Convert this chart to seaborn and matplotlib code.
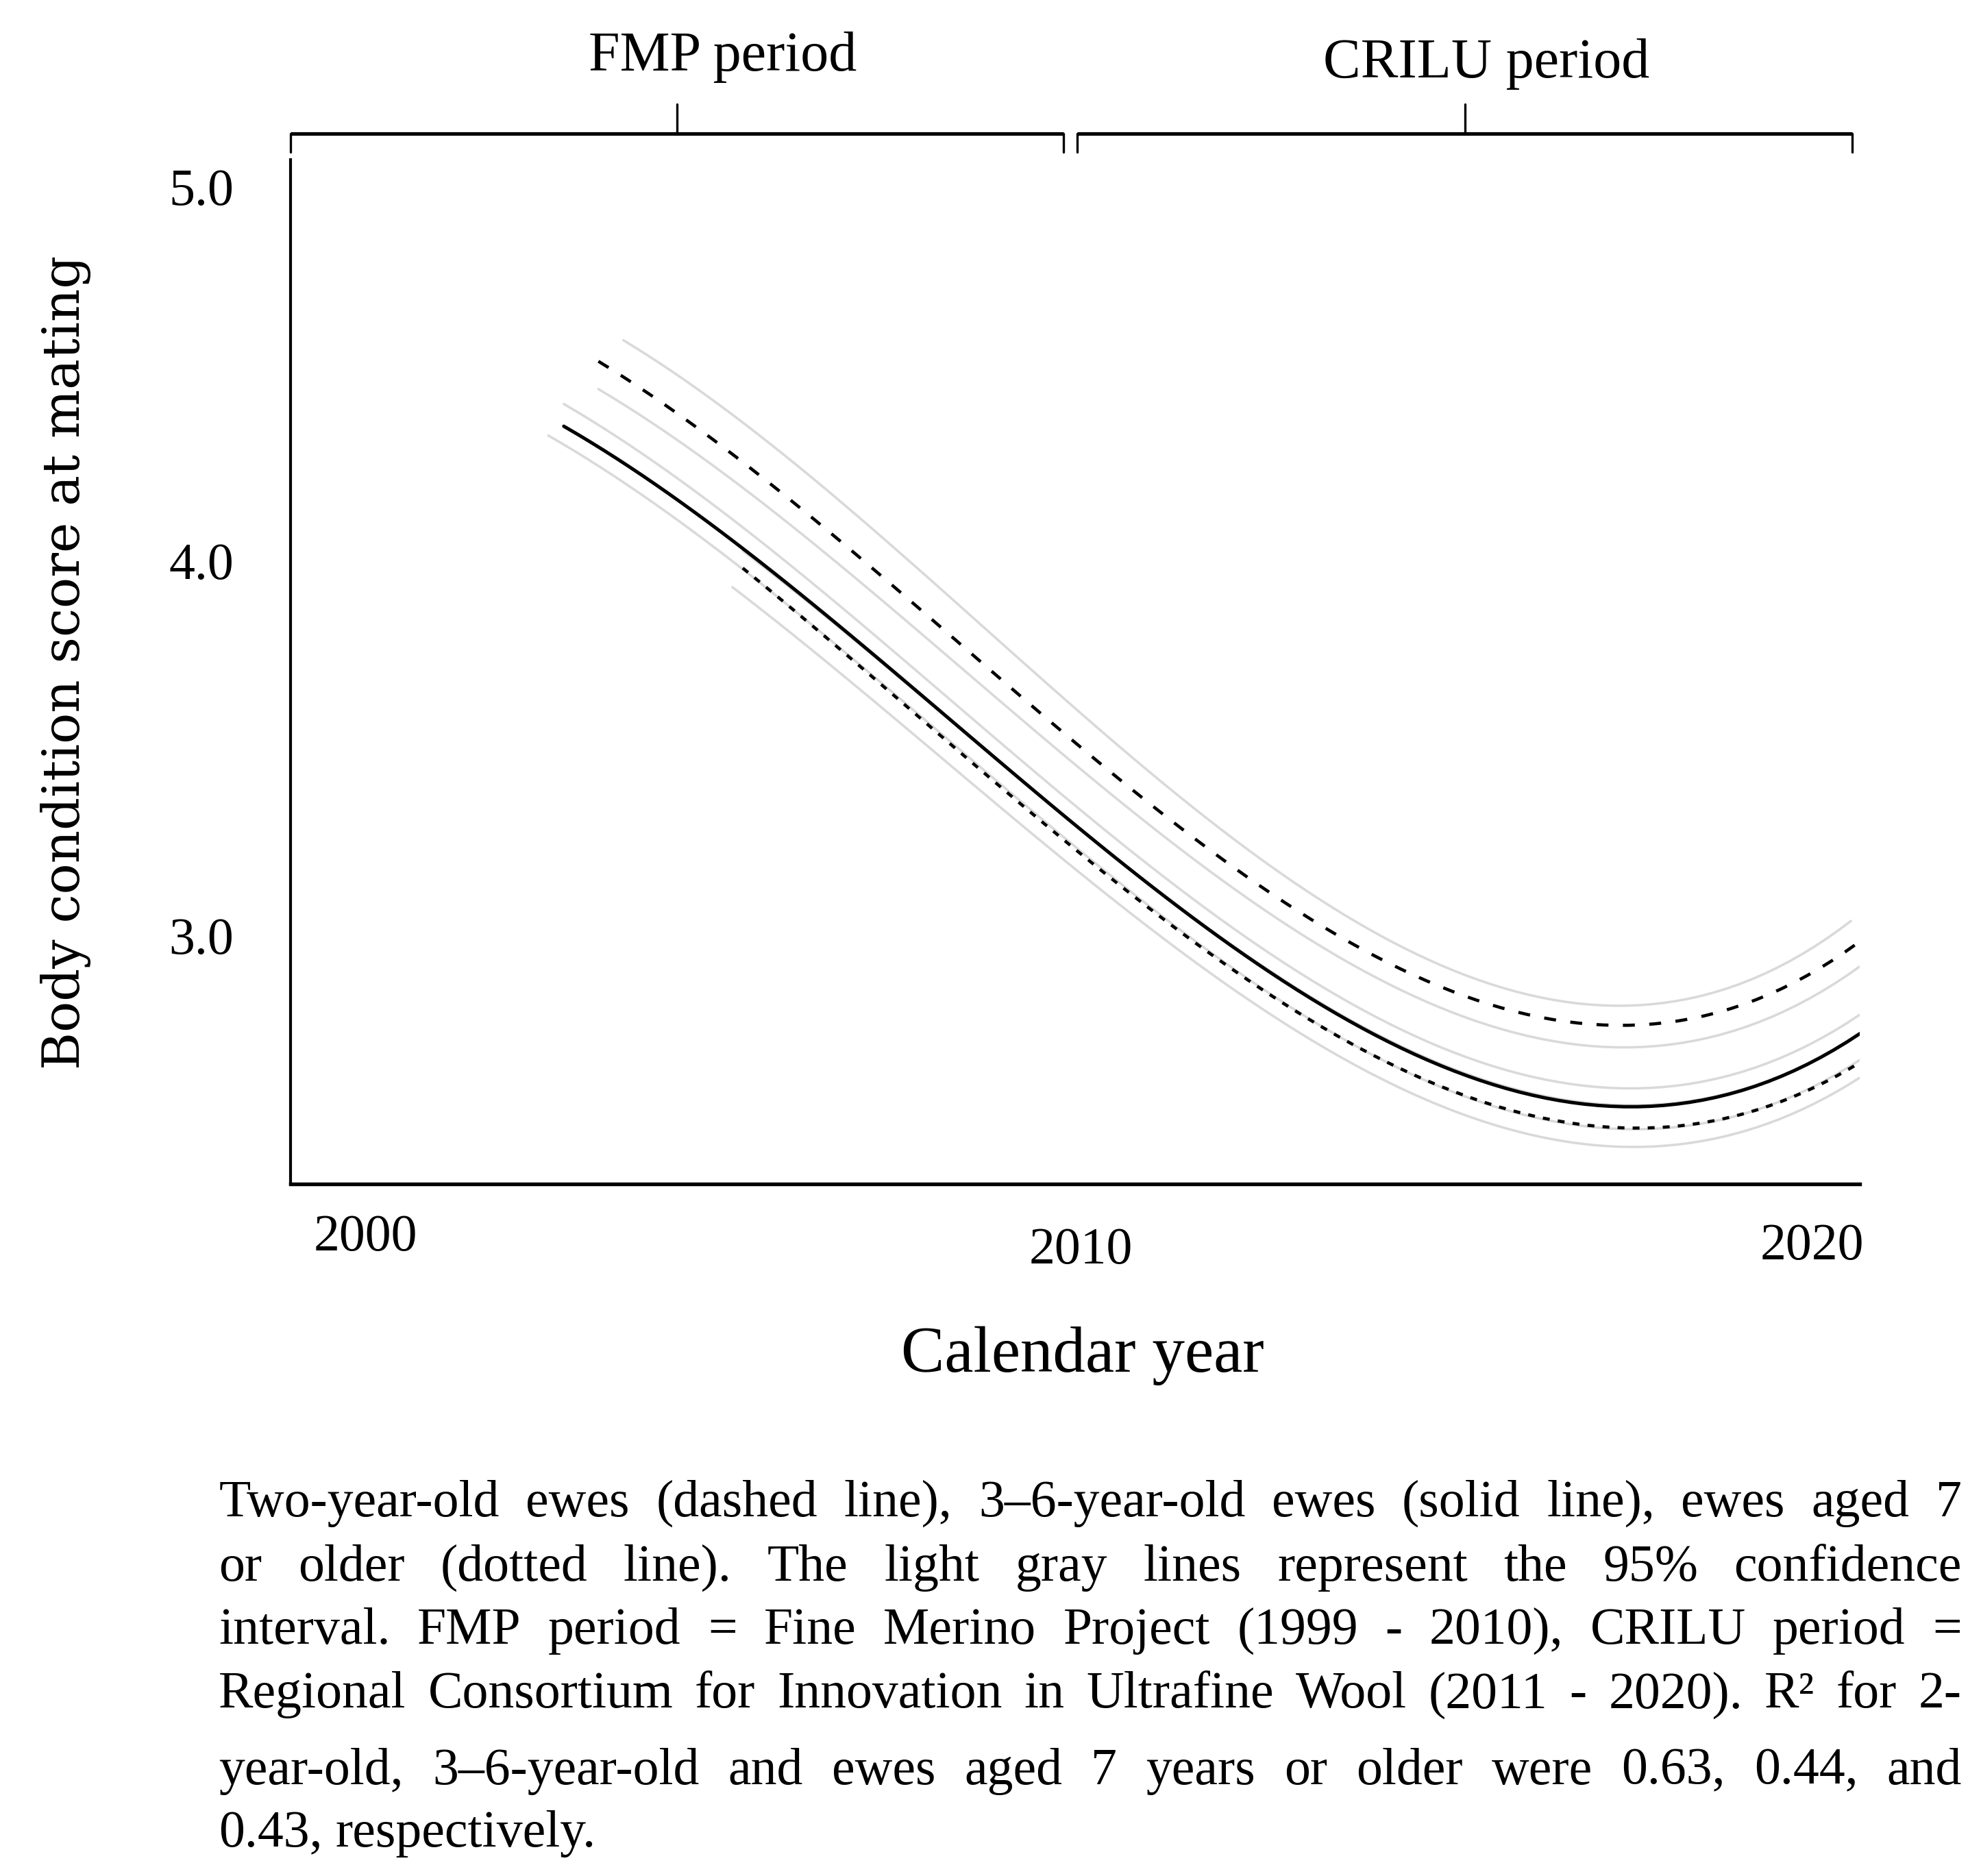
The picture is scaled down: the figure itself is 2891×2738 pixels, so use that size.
import matplotlib
matplotlib.use("Agg")
import matplotlib.pyplot as plt
import matplotlib.transforms as mtransforms
import numpy as np
import seaborn as sns

sns.set_style("white")
plt.rcParams['font.family'] = ['Liberation Serif', 'DejaVu Serif']
plt.rcParams['text.color'] = 'black'
plt.rcParams['ytick.color'] = 'black'
plt.rcParams['xtick.color'] = 'black'

# values (calendar year, body condition score)
yr_2yo = [2003.47, 2005.84, 2008.71, 2009.24, 2011.40, 2014.38, 2015.17, 2017.09, 2020.57]
bcs_2yo = [4.53, 4.21, 3.72, 3.63, 3.28, 2.92, 2.84, 2.76, 2.98]
yr_2yo_hi = [2003.81, 2008.71, 2009.53, 2014.38, 2015.22, 2017.09, 2020.48]
bcs_2yo_hi = [4.59, 3.82, 3.68, 2.97, 2.90, 2.81, 3.04]
yr_2yo_lo = [2003.47, 2008.71, 2014.38, 2015.22, 2017.09, 2020.60]
bcs_2yo_lo = [4.46, 3.66, 2.85, 2.80, 2.69, 2.92]

yr_36 = [2003.00, 2005.14, 2008.71, 2011.24, 2014.38, 2015.22, 2017.29, 2020.60]
bcs_36 = [4.36, 4.08, 3.49, 3.10, 2.71, 2.62, 2.54, 2.74]
yr_36_hi = [2003.00, 2008.71, 2014.38, 2015.22, 2017.29, 2020.60]
bcs_36_hi = [4.42, 3.55, 2.76, 2.67, 2.59, 2.79]
yr_36_lo = [2002.79, 2005.43, 2008.71, 2011.07, 2014.38, 2017.29, 2020.60]
bcs_36_lo = [4.33, 3.99, 3.44, 3.05, 2.645, 2.49, 2.665]

yr_7 = [2005.43, 2008.71, 2011.07, 2014.38, 2015.17, 2017.29, 2020.60]
bcs_7 = [3.98, 3.44, 3.05, 2.64, 2.58, 2.49, 2.66]
yr_7_hi = [2005.43, 2008.71, 2011.24, 2014.38, 2017.29, 2020.60]
bcs_7_hi = [4.03, 3.49, 3.10, 2.71, 2.54, 2.74]
yr_7_lo = [2005.29, 2008.71, 2014.38, 2015.22, 2017.29, 2020.60]
bcs_7_lo = [3.93, 3.38, 2.59, 2.52, 2.44, 2.62]

periods = ['FMP period', 'CRILU period']
period_start = [1999.29, 2009.97]
period_end = [2009.79, 2020.50]
period_label_x = [2005.16, 2015.53]
period_label_y = [1.1003, 1.0936]

year_ticks = [2000, 2010, 2020]
year_label_x = [2000.31, 2010.02, 2019.95]
year_label_y = [-0.0528, -0.065, -0.061]
bcs_ticks = [3.0, 4.0, 5.0]

caption_lines = [
    "Two-year-old ewes (dashed line), 3\u20136-year-old ewes (solid line), ewes aged 7",
    "or older (dotted line). The light gray lines represent the 95% confidence",
    "interval. FMP period = Fine Merino Project (1999 - 2010), CRILU period =",
    "Regional Consortium for Innovation in Ultrafine Wool (2011 - 2020). R\u00b2 for 2-",
    "year-old, 3\u20136-year-old and ewes aged 7 years or older were 0.63, 0.44, and",
    "0.43, respectively.",
]
caption_baselines = [0.1917, 0.1574, 0.1238, 0.0897, 0.0491, 0.0157]

BASE = 2000  # plot years as offset from 2000 to keep the cubic fit well conditioned

fig = plt.figure(figsize=(2891 / 300, 2738 / 300), dpi=300)
ax = fig.add_axes([0.1467, 0.3689, 0.9388 - 0.1467, 0.9149 - 0.3689])

gray = '#d9d9d9'
ci_series = [(yr_2yo_hi, bcs_2yo_hi), (yr_2yo_lo, bcs_2yo_lo),
             (yr_36_hi, bcs_36_hi), (yr_36_lo, bcs_36_lo),
             (yr_7_hi, bcs_7_hi), (yr_7_lo, bcs_7_lo)]
for yrs, vals in ci_series:
    sns.regplot(x=np.array(yrs) - BASE, y=np.array(vals), order=3, ci=None, scatter=False,
                truncate=True, ax=ax,
                line_kws={'color': gray, 'linewidth': 0.85, 'zorder': 1})

main_series = [
    (yr_7, bcs_7, (0, (2.2, 2.6)), 1.1),
    (yr_36, bcs_36, '-', 1.2),
    (yr_2yo, bcs_2yo, (0, (3.8, 4.6)), 1.1),
]
for yrs, vals, ls, lw in main_series:
    sns.regplot(x=np.array(yrs) - BASE, y=np.array(vals), order=3, ci=None, scatter=False,
                truncate=True, ax=ax,
                line_kws={'color': 'black', 'linewidth': lw, 'linestyle': ls, 'zorder': 3})

ax.set_xlim(1999.29 - BASE, 2020.60 - BASE)
ax.set_ylim(2.337, 5.072)
ax.set_xlabel('')
ax.set_ylabel('')
ax.set_xticks([])
ax.set_yticks(bcs_ticks)
ax.set_yticklabels([f'{v:.1f}' for v in bcs_ticks])
ax.tick_params(axis='y', length=0, pad=20, labelsize=18.2)

for s in ['top', 'right']:
    ax.spines[s].set_visible(False)
ax.spines['left'].set_linewidth(1.0)
ax.spines['bottom'].set_linewidth(1.3)
ax.spines['left'].set_color('black')
ax.spines['bottom'].set_color('black')

trans = mtransforms.blended_transform_factory(ax.transData, ax.transAxes)

# year labels (staggered as in the original)
for yr, lx, ly in zip(year_ticks, year_label_x, year_label_y):
    ax.text(lx - BASE, ly, str(yr), transform=trans, ha='center', va='center',
            fontsize=18.2, clip_on=False)

# period brackets above the plot
bar_y, end_y, mid_y = 1.0254, 1.0074, 1.0542
for name, x0, x1, lx, ly in zip(periods, period_start, period_end, period_label_x, period_label_y):
    a, b = x0 - BASE, x1 - BASE
    ax.plot([a, b], [bar_y, bar_y], transform=trans, color='black', lw=1.25,
            clip_on=False, solid_capstyle='butt')
    ax.plot([a, a], [bar_y, end_y], transform=trans, color='black', lw=0.8, clip_on=False)
    ax.plot([b, b], [bar_y, end_y], transform=trans, color='black', lw=0.8, clip_on=False)
    m = (a + b) / 2
    ax.plot([m, m], [bar_y, mid_y], transform=trans, color='black', lw=0.8, clip_on=False)
    ax.text(lx - BASE, ly, name, transform=trans, ha='center', va='center',
            fontsize=19.7, clip_on=False)

fig.text(0.5465, 0.2772, 'Calendar year', ha='center', va='center', fontsize=22.8)
fig.text(0.0333, 0.6468, 'Body condition score at mating', rotation=90,
         ha='center', va='center', fontsize=18, family=['DejaVu Serif'])

# justified caption
renderer = fig.canvas.get_renderer()
fig_w = fig.get_figwidth() * fig.dpi
cap_x0, cap_x1 = 0.1104, 0.9903
cap_size = 18.2
for i, (line, yb) in enumerate(zip(caption_lines, caption_baselines)):
    words = line.split(' ')
    texts = [fig.text(cap_x0, yb, w, ha='left', va='baseline', fontsize=cap_size)
             for w in words]
    widths = [t.get_window_extent(renderer).width for t in texts]
    space = cap_size * fig.dpi / 72 * 0.25
    if i < len(caption_lines) - 1 and len(words) > 1:
        gap = ((cap_x1 - cap_x0) * fig_w - sum(widths)) / (len(words) - 1)
        gap = max(gap, space * 0.5)
    else:
        gap = space
    xpos = cap_x0 * fig_w
    for t, w in zip(texts, widths):
        t.set_x(xpos / fig_w)
        xpos += w + gap

fig.savefig('out.png', dpi=300, facecolor='white')
